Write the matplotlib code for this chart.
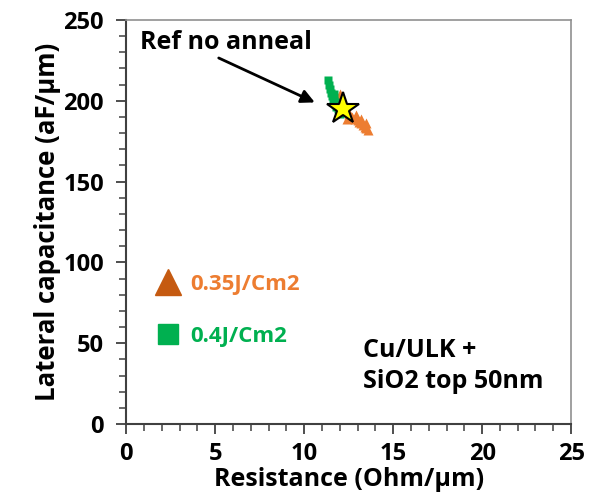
import matplotlib
matplotlib.use("Agg")
import matplotlib.pyplot as plt
from matplotlib.lines import Line2D
from matplotlib.ticker import MultipleLocator

plt.rcParams['font.family'] = ['Open Sans', 'DejaVu Sans']
plt.rcParams['font.weight'] = 'bold'

# 0.35 J/cm2 anneal (triangles)
res_035 = [12.0, 12.05, 12.15, 12.3, 12.4, 12.5, 12.6, 12.7, 12.85, 13.0,
           13.1, 13.2, 13.3, 13.4, 13.5, 13.6, 12.9, 13.2, 12.4, 13.45]
cap_035 = [204, 201, 199, 197, 194, 192, 191, 190, 189, 188,
           187, 186, 185, 184, 183, 182, 191, 189, 189, 186]

# 0.4 J/cm2 anneal (squares)
res_04 = [11.35, 11.4, 11.45, 11.5, 11.55, 11.6, 11.7, 11.75, 11.8, 11.9,
          11.95, 12.0, 11.65, 11.85]
cap_04 = [213, 210, 207, 205, 203, 201, 200, 198, 196, 195,
          193, 192, 204, 199]

# reference, no anneal
res_ref = [12.2]
cap_ref = [195]

orange = "#ED7D31"
orange_dark = "#C55A11"
green = "#00B050"

fig = plt.figure(figsize=(5.98, 5.0), dpi=100)
ax = fig.add_axes([0.211, 0.152, 0.744, 0.808])

ax.plot(res_035, cap_035, '^', color=orange, markersize=7, mec='none')
ax.plot(res_04, cap_04, 's', color=green, markersize=6, mec='none')
ax.plot(res_ref, cap_ref, '*', color='#FFFF00', markersize=24,
        mec='black', mew=1.5)

ax.set_xlim(0, 25)
ax.set_ylim(0, 250)
ax.xaxis.set_major_locator(MultipleLocator(5))
ax.xaxis.set_minor_locator(MultipleLocator(1))
ax.yaxis.set_major_locator(MultipleLocator(50))
ax.yaxis.set_minor_locator(MultipleLocator(10))

for s in ['left', 'bottom']:
    ax.spines[s].set_color('#404040')
    ax.spines[s].set_linewidth(1.5)
for s in ['top', 'right']:
    ax.spines[s].set_color('#909090')
    ax.spines[s].set_linewidth(1.2)

ax.tick_params(which='major', direction='out', length=7, width=1.3,
               color='#404040', labelsize=17, pad=9)
ax.tick_params(axis='x', which='major', pad=6)
ax.tick_params(which='minor', direction='out', length=5, width=1.1,
               color='#404040')
for lab in ax.get_xticklabels() + ax.get_yticklabels():
    lab.set_fontweight('bold')

ax.set_xlabel("Resistance (Ohm/µm)", fontsize=18, fontweight='bold', labelpad=1)
ax.set_ylabel("Lateral capacitance (aF/µm)", fontsize=18.5, fontweight='bold', labelpad=2)

ax.text(5.6, 236, "Ref no anneal", fontsize=18, fontweight='bold',
        ha='center', va='center')
ax.annotate("", xy=(10.6, 199), xytext=(5.2, 226.5),
            arrowprops=dict(arrowstyle='-|>', color='black', lw=2,
                            mutation_scale=20, shrinkA=0, shrinkB=0))

ax.text(13.3, 53, "Cu/ULK +\nSiO2 top 50nm", fontsize=18, fontweight='bold',
        ha='left', va='top', linespacing=1.3)

handles = [Line2D([], [], ls='none', marker='^', color=orange_dark, markersize=19),
           Line2D([], [], ls='none', marker='s', color=green, markersize=14)]
leg = ax.legend(handles, ["0.35J/Cm2", "0.4J/Cm2"], loc='upper left',
                bbox_to_anchor=(0.062, 0.372), frameon=False,
                handlelength=1.3, handletextpad=0.35, labelspacing=1.4,
                borderpad=0, borderaxespad=0, labelcolor=[orange, green],
                prop={'weight': 'bold', 'size': 16})

fig.savefig("out.png", dpi=100)
